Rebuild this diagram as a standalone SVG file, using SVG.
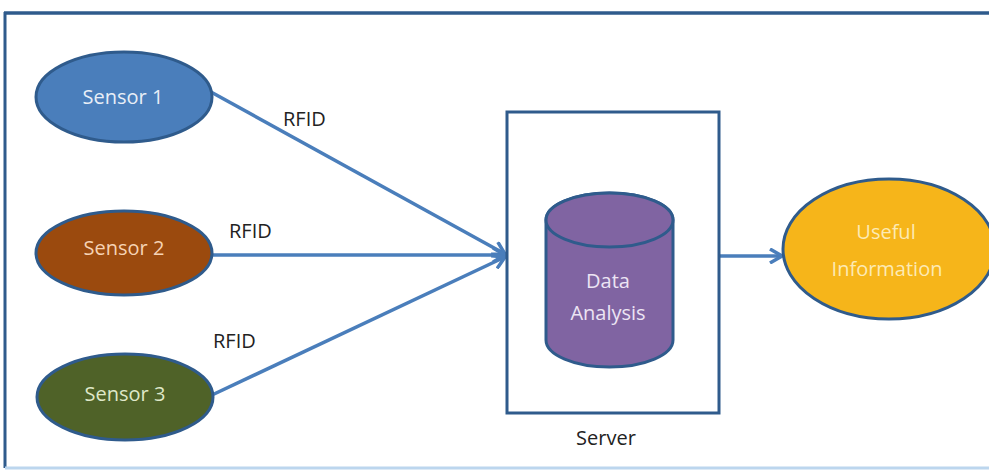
<svg xmlns="http://www.w3.org/2000/svg" width="989" height="471" viewBox="0 0 989 471">
<defs>
<style>
.node{stroke:#2f5b8c;stroke-width:3}
.lbl{font-family:"Open Sans","Liberation Sans",sans-serif;font-size:20px;text-anchor:middle;dominant-baseline:central}
.rfid{font-family:"Open Sans","Liberation Sans",sans-serif;font-size:20px;fill:#222}
.edge{stroke:#4a7ebb;stroke-width:3.5;fill:none}
</style>
<marker id="arr" viewBox="0 0 14 16" refX="13" refY="8" markerWidth="14" markerHeight="16" markerUnits="userSpaceOnUse" orient="auto">
<path d="M1,1 L13,8 L1,15" fill="none" stroke="#4a7ebb" stroke-width="3.5" stroke-linejoin="miter"/>
</marker>
</defs>
<rect width="989" height="471" fill="#ffffff"/>
<g id="frame">
<line x1="4" y1="13" x2="989" y2="13" stroke="#2f5b8c" stroke-width="3.5"/>
<line x1="5" y1="12" x2="5" y2="468" stroke="#2f5b8c" stroke-width="3"/>
<line x1="5" y1="468" x2="989" y2="468" stroke="#bcd6ee" stroke-width="3"/>
</g>
<g id="connectors">
<line class="edge" x1="211" y1="92" x2="505" y2="254" marker-end="url(#arr)"/>
<line class="edge" x1="213" y1="255" x2="505" y2="255" marker-end="url(#arr)"/>
<line class="edge" x1="212" y1="395" x2="505" y2="257" marker-end="url(#arr)"/>
<line class="edge" x1="719" y1="256" x2="782" y2="256" marker-end="url(#arr)"/>
<text class="rfid" x="283" y="126">RFID</text>
<text class="rfid" x="229" y="238">RFID</text>
<text class="rfid" x="213" y="348">RFID</text>
</g>
<g id="sensor1">
<ellipse class="node" cx="124" cy="97" rx="88" ry="45" fill="#4a7ebb"/>
<text class="lbl" x="123" y="96" fill="#e8eef7">Sensor 1</text>
</g>
<g id="sensor2">
<ellipse class="node" cx="124" cy="253" rx="88" ry="42" fill="#9b4a0e"/>
<text class="lbl" x="124" y="247" fill="#f6d3b4">Sensor 2</text>
</g>
<g id="sensor3">
<ellipse class="node" cx="125" cy="397" rx="88" ry="43" fill="#4f6228"/>
<text class="lbl" x="125" y="393" fill="#dfe8c9">Sensor 3</text>
</g>
<g id="server">
<rect class="node" x="507" y="112" width="212" height="301" fill="#ffffff"/>
<text class="lbl" x="606" y="437" fill="#222">Server</text>
</g>
<g id="data-analysis">
<path class="node" d="M546,220 L546,340 A63.5,27 0 0 0 673,340 L673,220 A63.5,27 0 0 0 546,220 Z" fill="#8064a2"/>
<ellipse class="node" cx="609.5" cy="220" rx="63.5" ry="27" fill="#8064a2"/>
<text class="lbl" x="608" y="280" fill="#ece4f4">Data</text>
<text class="lbl" x="608" y="312" fill="#ece4f4">Analysis</text>
</g>
<g id="useful-information">
<ellipse class="node" cx="889" cy="249" rx="106" ry="70" fill="#f6b51a"/>
<text class="lbl" x="886" y="231" fill="#fdeab4">Useful</text>
<text class="lbl" x="887" y="268" fill="#fdeab4">Information</text>
</g>
</svg>
